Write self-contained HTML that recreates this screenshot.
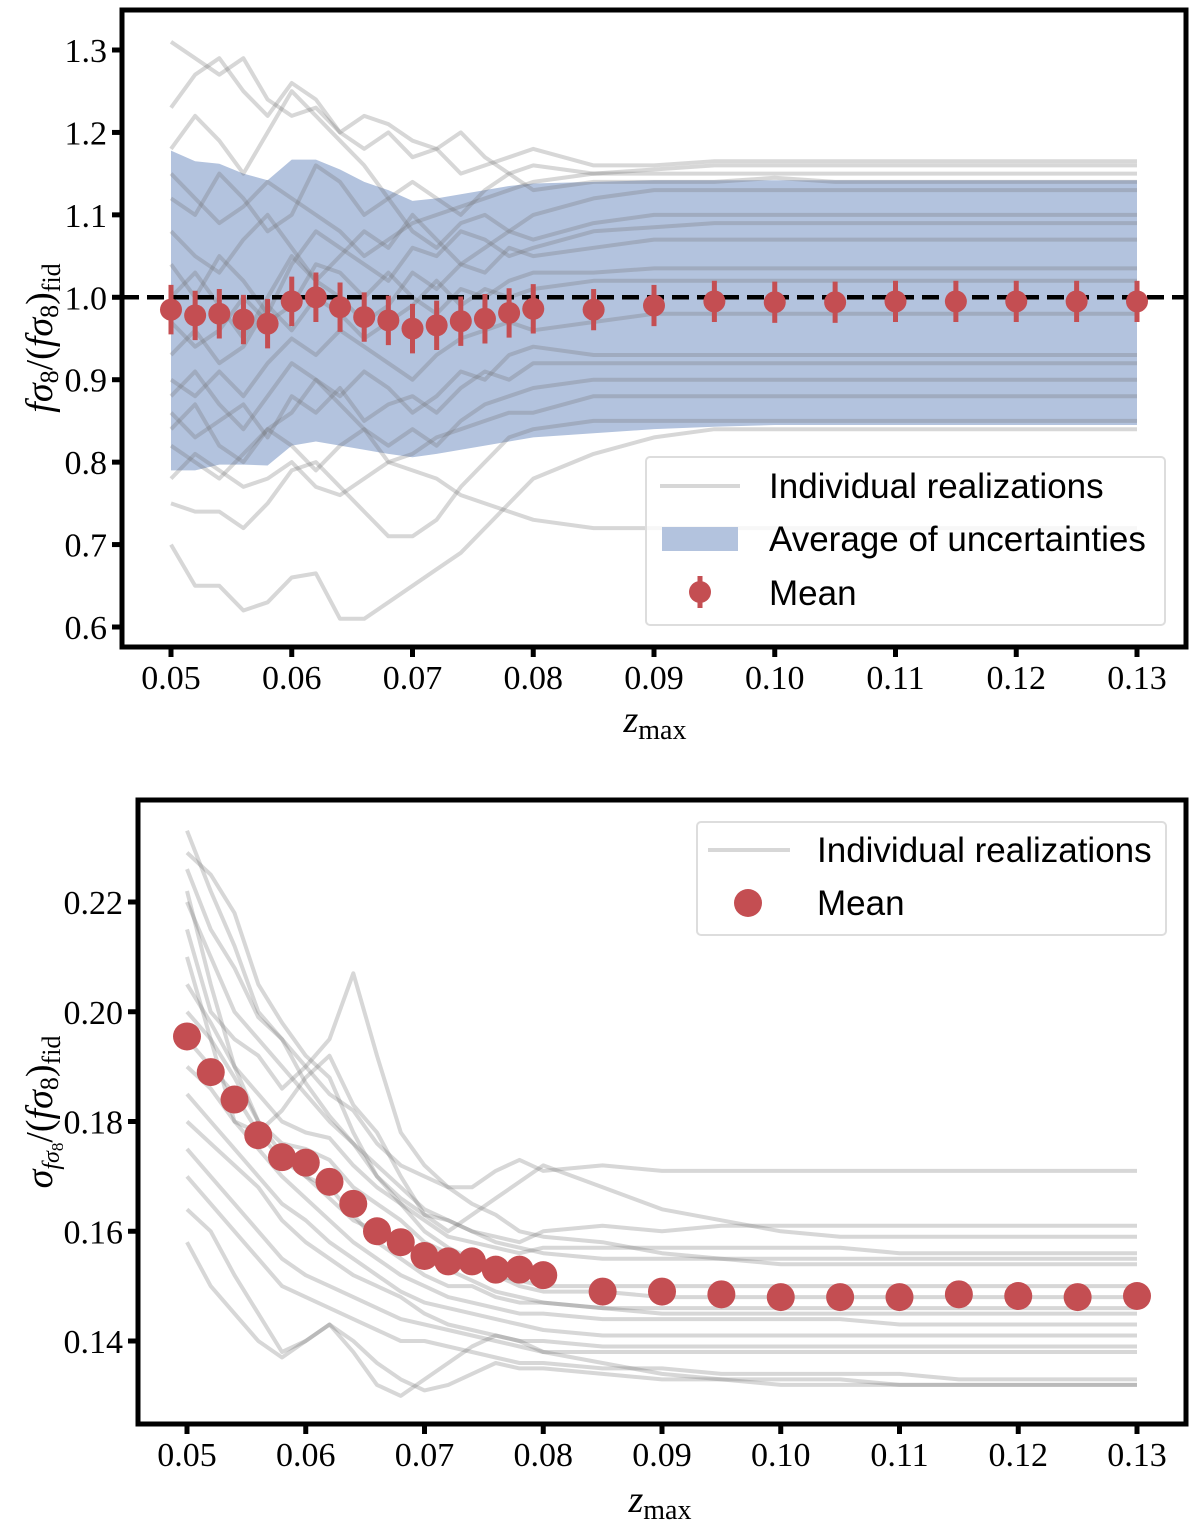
<!DOCTYPE html>
<html><head><meta charset="utf-8"><style>
body{margin:0;background:#fff;}
svg{display:block;}
text{font-family:"Liberation Serif",serif;fill:#000;}
.leg{font-family:"Liberation Sans",sans-serif;font-size:35px;}
</style></head><body>
<svg id="chart" width="1200" height="1532" viewBox="0 0 1200 1532" xmlns="http://www.w3.org/2000/svg"></svg>
<script>
const zvals=[0.050,0.052,0.054,0.056,0.058,0.060,0.062,0.064,0.066,0.068,0.070,0.072,0.074,0.076,0.078,0.080,0.085,0.090,0.095,0.100,0.105,0.110,0.115,0.120,0.125,0.130];
const xTicks=[0.05,0.06,0.07,0.08,0.09,0.10,0.11,0.12,0.13];
const xTickLabels=["0.05","0.06","0.07","0.08","0.09","0.10","0.11","0.12","0.13"];
const topYTicks=[0.6,0.7,0.8,0.9,1.0,1.1,1.2,1.3];
const topYTickLabels=["0.6","0.7","0.8","0.9","1.0","1.1","1.2","1.3"];
const botYTicks=[0.14,0.16,0.18,0.20,0.22];
const botYTickLabels=["0.14","0.16","0.18","0.20","0.22"];
const topMean=[0.985,0.978,0.980,0.973,0.968,0.995,1.000,0.988,0.976,0.972,0.962,0.966,0.971,0.974,0.981,0.986,0.985,0.990,0.995,0.994,0.994,0.995,0.995,0.995,0.995,0.995];
const topErr=[0.03,0.03,0.03,0.03,0.03,0.03,0.03,0.03,0.03,0.03,0.03,0.03,0.03,0.03,0.03,0.03,0.025,0.025,0.025,0.025,0.025,0.025,0.025,0.025,0.025,0.025];
const bandUpper=[1.178,1.165,1.162,1.150,1.142,1.167,1.167,1.155,1.140,1.130,1.117,1.120,1.125,1.130,1.135,1.138,1.140,1.142,1.142,1.142,1.142,1.142,1.142,1.142,1.142,1.142];
const bandLower=[0.790,0.790,0.797,0.797,0.796,0.820,0.825,0.820,0.815,0.810,0.806,0.810,0.815,0.820,0.825,0.830,0.835,0.840,0.843,0.845,0.845,0.845,0.845,0.845,0.845,0.845];
const topReal=[
[1.31,1.29,1.27,1.29,1.24,1.22,1.23,1.20,1.18,1.20,1.17,1.18,1.15,1.16,1.17,1.18,1.16,1.16,1.165,1.165,1.165,1.165,1.165,1.165,1.165,1.165],
[1.23,1.27,1.29,1.25,1.22,1.26,1.24,1.20,1.22,1.21,1.19,1.18,1.20,1.17,1.15,1.16,1.15,1.155,1.16,1.16,1.16,1.16,1.16,1.16,1.16,1.16],
[1.18,1.22,1.19,1.15,1.20,1.25,1.22,1.19,1.16,1.12,1.14,1.12,1.10,1.13,1.15,1.13,1.14,1.14,1.14,1.145,1.14,1.14,1.14,1.14,1.14,1.14],
[1.12,1.10,1.15,1.12,1.08,1.10,1.16,1.14,1.10,1.12,1.08,1.06,1.09,1.10,1.08,1.10,1.12,1.13,1.13,1.13,1.13,1.13,1.13,1.13,1.13,1.13],
[1.08,1.05,1.03,1.07,1.10,1.06,1.02,1.05,1.08,1.06,1.10,1.07,1.04,1.06,1.08,1.07,1.09,1.10,1.10,1.10,1.10,1.10,1.10,1.10,1.10,1.10],
[1.04,1.00,1.05,1.02,0.98,1.04,1.08,1.06,1.04,1.02,1.06,1.05,1.08,1.07,1.05,1.06,1.08,1.085,1.09,1.09,1.09,1.09,1.09,1.09,1.09,1.09],
[1.00,1.03,0.99,0.95,1.00,1.05,1.02,1.00,0.97,0.99,1.03,1.01,1.04,1.03,1.06,1.05,1.06,1.07,1.07,1.07,1.07,1.07,1.07,1.07,1.07,1.07],
[0.97,0.94,0.96,1.00,0.97,0.99,1.04,1.03,1.00,1.03,1.00,0.98,1.01,1.00,1.02,1.03,1.03,1.035,1.035,1.035,1.035,1.035,1.035,1.035,1.035,1.035],
[0.93,0.96,0.92,0.94,0.99,0.96,1.00,0.98,0.95,0.97,0.99,1.02,0.99,1.01,1.00,1.01,1.02,1.02,1.02,1.02,1.02,1.02,1.02,1.02,1.02,1.02],
[0.90,0.88,0.91,0.88,0.92,0.95,0.93,0.96,0.94,0.92,0.90,0.93,0.95,0.96,0.97,0.96,0.97,0.98,0.98,0.98,0.98,0.98,0.98,0.98,0.98,0.98],
[0.88,0.91,0.87,0.84,0.88,0.92,0.90,0.88,0.91,0.89,0.86,0.88,0.91,0.90,0.93,0.94,0.93,0.93,0.93,0.93,0.93,0.93,0.93,0.93,0.93,0.93],
[0.86,0.83,0.85,0.87,0.83,0.88,0.86,0.89,0.85,0.87,0.88,0.86,0.89,0.91,0.90,0.92,0.92,0.92,0.92,0.92,0.92,0.92,0.92,0.92,0.92,0.92],
[0.84,0.87,0.82,0.80,0.84,0.86,0.90,0.87,0.84,0.82,0.84,0.82,0.85,0.87,0.88,0.89,0.90,0.90,0.90,0.90,0.90,0.90,0.90,0.90,0.90,0.90],
[0.82,0.80,0.78,0.81,0.84,0.82,0.79,0.82,0.84,0.80,0.81,0.83,0.84,0.85,0.86,0.86,0.88,0.88,0.88,0.88,0.88,0.88,0.88,0.88,0.88,0.88],
[0.75,0.74,0.74,0.72,0.75,0.79,0.80,0.77,0.74,0.71,0.71,0.73,0.77,0.80,0.83,0.84,0.85,0.85,0.85,0.85,0.85,0.85,0.85,0.85,0.85,0.85],
[0.70,0.65,0.65,0.62,0.63,0.66,0.665,0.61,0.61,0.63,0.65,0.67,0.69,0.72,0.75,0.78,0.81,0.83,0.84,0.84,0.84,0.84,0.84,0.84,0.84,0.84],
[0.78,0.81,0.79,0.77,0.78,0.80,0.77,0.76,0.78,0.80,0.79,0.78,0.76,0.75,0.74,0.73,0.72,0.72,0.72,0.72,0.72,0.72,0.72,0.72,0.72,0.72],
[1.15,1.12,1.09,1.11,1.14,1.12,1.10,1.08,1.05,1.07,1.09,1.10,1.11,1.12,1.13,1.14,1.15,1.15,1.15,1.15,1.15,1.15,1.15,1.15,1.15,1.15]];
const botMean=[0.1955,0.189,0.184,0.1775,0.1735,0.1725,0.169,0.165,0.160,0.158,0.1555,0.1545,0.1545,0.153,0.153,0.152,0.149,0.149,0.1485,0.148,0.148,0.148,0.1485,0.1482,0.148,0.1482];
const botReal=[
[.233,.222,.212,.200,.195,.190,.185,.182,.176,.172,.170,.168,.168,.171,.173,.171,.172,.171,.171,.171,.171,.171,.171,.171,.171,.171],
[.229,.225,.218,.205,.198,.192,.188,.178,.170,.166,.163,.162,.160,.159,.158,.160,.161,.160,.161,.161,.161,.161,.161,.161,.161,.161],
[.226,.215,.208,.199,.195,.187,.181,.176,.170,.165,.162,.159,.158,.157,.156,.157,.157,.157,.157,.157,.157,.156,.156,.156,.156,.156],
[.220,.210,.200,.195,.190,.185,.180,.176,.172,.168,.164,.162,.160,.158,.157,.156,.155,.155,.155,.155,.155,.155,.155,.155,.155,.155],
[.215,.200,.195,.192,.186,.190,.195,.207,.192,.178,.172,.168,.165,.163,.160,.159,.158,.156,.155,.154,.154,.154,.154,.154,.154,.154],
[.205,.198,.190,.185,.180,.178,.177,.172,.168,.165,.160,.157,.155,.152,.151,.150,.150,.150,.150,.150,.150,.150,.150,.150,.150,.150],
[.200,.195,.188,.180,.176,.175,.173,.168,.165,.162,.158,.156,.154,.152,.150,.149,.149,.148,.148,.148,.148,.148,.148,.148,.148,.148],
[.195,.190,.185,.178,.173,.170,.168,.163,.158,.155,.152,.150,.150,.148,.147,.147,.146,.146,.146,.146,.146,.146,.146,.146,.146,.146],
[.190,.186,.180,.175,.170,.166,.162,.158,.155,.152,.150,.148,.147,.146,.145,.145,.144,.144,.144,.144,.144,.143,.143,.143,.143,.143],
[.185,.180,.175,.170,.165,.162,.158,.155,.152,.149,.147,.146,.145,.144,.143,.142,.141,.141,.141,.141,.141,.141,.141,.141,.141,.141],
[.180,.176,.172,.168,.162,.158,.155,.152,.150,.148,.145,.143,.142,.141,.140,.140,.139,.139,.139,.139,.139,.139,.139,.139,.139,.139],
[.175,.170,.165,.160,.155,.152,.150,.148,.146,.144,.143,.142,.141,.140,.139,.138,.138,.138,.138,.138,.138,.138,.138,.138,.138,.138],
[.170,.165,.160,.155,.150,.148,.146,.144,.142,.140,.140,.139,.138,.137,.136,.136,.135,.135,.134,.134,.134,.134,.133,.133,.133,.133],
[.164,.160,.152,.145,.138,.140,.143,.140,.136,.133,.131,.132,.134,.136,.135,.135,.134,.133,.133,.133,.133,.132,.132,.132,.132,.132],
[.158,.150,.145,.140,.137,.140,.143,.138,.132,.130,.133,.136,.139,.141,.140,.138,.136,.134,.133,.132,.132,.132,.132,.132,.132,.132],
[.210,.195,.180,.178,.182,.188,.192,.183,.178,.170,.163,.160,.163,.166,.169,.172,.168,.164,.162,.160,.159,.159,.159,.159,.159,.159],
[.222,.205,.190,.180,.174,.170,.166,.162,.160,.158,.155,.153,.151,.149,.148,.147,.146,.145,.145,.145,.145,.145,.145,.145,.145,.145]];

const NS="http://www.w3.org/2000/svg";
const svg=document.getElementById('chart');
function mk(tag,attrs,parent,txt){const e=document.createElementNS(NS,tag);for(const k in attrs)e.setAttribute(k,attrs[k]);if(txt!==undefined)e.textContent=txt;(parent||svg).appendChild(e);return e;}

const P1={l:122,r:1186,t:10,b:647,x0:0.05,px0:171,x1:0.13,px1:1137,y0:0.6,py0:627,y1:1.3,py1:50};
const P2={l:138,r:1186,t:800,b:1424,x0:0.05,px0:187,x1:0.13,px1:1137,y0:0.14,py0:1341,y1:0.22,py1:902};
function sx(P,v){return P.px0+(v-P.x0)*(P.px1-P.px0)/(P.x1-P.x0);}
function sy(P,v){return P.py0+(v-P.y0)*(P.py1-P.py0)/(P.y1-P.y0);}
function linePath(P,arr){return arr.map((v,i)=>(i?'L':'M')+sx(P,zvals[i]).toFixed(1)+','+sy(P,v).toFixed(1)).join(' ');}

function axes(P,g,yt,ytl){
  for(let i=0;i<xTicks.length;i++){
    const x=sx(P,xTicks[i]);
    const t=mk('line',{x1:x,x2:x,y1:P.b,y2:P.b+10,stroke:'#000','stroke-width':5},g);
    
    
    const l=mk('text',{x:x,y:P.b+42,'font-size':34,'text-anchor':'middle'},g,xTickLabels[i]);
    
    
  }
  for(let i=0;i<yt.length;i++){
    const y=sy(P,yt[i]);
    const t=mk('line',{x1:P.l-10,x2:P.l,y1:y,y2:y,stroke:'#000','stroke-width':5},g);
    
    
    const l=mk('text',{x:P.l-15,y:y+12,'font-size':34,'text-anchor':'end'},g,ytl[i]);
    
    
  }
  const f=mk('rect',{x:P.l,y:P.t,width:P.r-P.l,height:P.b-P.t,fill:'none',stroke:'#000','stroke-width':5},g);
  
  
}

// ---------- TOP PANEL ----------
const g1=mk('g',{});


const clip=mk('clipPath',{id:'c1'},mk('defs',{},g1));
mk('rect',{x:P1.l,y:P1.t,width:P1.r-P1.l,height:P1.b-P1.t},clip);
const gc=mk('g',{'clip-path':'url(#c1)'},g1);
let bd=bandUpper.map((v,i)=>(i?'L':'M')+sx(P1,zvals[i])+','+sy(P1,v)).join(' ');
for(let i=zvals.length-1;i>=0;i--)bd+=' L'+sx(P1,zvals[i])+','+sy(P1,bandLower[i]);
const band=mk('path',{d:bd+' Z',fill:'#b3c3de',stroke:'none'},gc);


topReal.forEach(r=>{
  const p=mk('path',{d:linePath(P1,r),fill:'none',stroke:'rgba(110,110,110,0.28)','stroke-width':4,'stroke-linejoin':'round'},gc);
  
  
});
const ref=mk('line',{x1:P1.l,x2:P1.r,y1:sy(P1,1.0),y2:sy(P1,1.0),stroke:'#000','stroke-width':4.5,'stroke-dasharray':'17,8'},gc);


topMean.forEach((v,i)=>{
  const x=sx(P1,zvals[i]);
  const e=mk('line',{x1:x,x2:x,y1:sy(P1,v+topErr[i]),y2:sy(P1,v-topErr[i]),stroke:'#c44e52','stroke-width':5},gc);
  
  
  const c=mk('circle',{cx:x,cy:sy(P1,v),r:11,fill:'#c44e52'},gc);
  
  
});
axes(P1,g1,topYTicks,topYTickLabels);
const lg1=mk('g',{},g1);


mk('rect',{x:646,y:457,width:519,height:168,rx:4,fill:'rgba(255,255,255,0.8)',stroke:'#ddd','stroke-width':2},lg1);
mk('line',{x1:660,x2:740,y1:486,y2:486,stroke:'rgba(110,110,110,0.28)','stroke-width':4},lg1);
mk('text',{x:769,y:498,class:'leg'},lg1,'Individual realizations');
mk('rect',{x:662,y:527,width:76,height:24,fill:'#b3c3de'},lg1);
mk('text',{x:769,y:551,class:'leg'},lg1,'Average of uncertainties');
mk('line',{x1:700,x2:700,y1:576,y2:608,stroke:'#c44e52','stroke-width':5},lg1);
mk('circle',{cx:700,cy:592,r:11,fill:'#c44e52'},lg1);
mk('text',{x:769,y:605,class:'leg'},lg1,'Mean');
const yl1=mk('text',{x:0,y:0,'font-size':38,'text-anchor':'middle','font-style':'italic',transform:'translate(52,338) rotate(-90)'},g1);


yl1.innerHTML='fσ<tspan font-size="26" dy="6" font-style="normal">8</tspan><tspan dy="-6" font-style="normal">/(</tspan>fσ<tspan font-size="26" dy="6" font-style="normal">8</tspan><tspan dy="-6" font-style="normal">)</tspan><tspan font-size="26" dy="8" font-style="normal">fid</tspan>';
const xl1=mk('text',{x:655,y:732,'font-size':38,'text-anchor':'middle','font-style':'italic'},g1);


xl1.innerHTML='z<tspan font-size="28" dy="7" font-style="normal">max</tspan>';

// ---------- BOTTOM PANEL ----------
const g2=mk('g',{});


const clip2=mk('clipPath',{id:'c2'},mk('defs',{},g2));
mk('rect',{x:P2.l,y:P2.t,width:P2.r-P2.l,height:P2.b-P2.t},clip2);
const gc2=mk('g',{'clip-path':'url(#c2)'},g2);
botReal.forEach(r=>{
  const p=mk('path',{d:linePath(P2,r),fill:'none',stroke:'rgba(110,110,110,0.28)','stroke-width':4,'stroke-linejoin':'round'},gc2);
  
  
});
botMean.forEach((v,i)=>{
  const c=mk('circle',{cx:sx(P2,zvals[i]),cy:sy(P2,v),r:14,fill:'#c44e52'},gc2);
  
  
});
axes(P2,g2,botYTicks,botYTickLabels);
const lg2=mk('g',{},g2);


mk('rect',{x:697,y:822,width:469,height:113,rx:4,fill:'rgba(255,255,255,0.8)',stroke:'#ddd','stroke-width':2},lg2);
mk('line',{x1:708,x2:790,y1:850,y2:850,stroke:'rgba(110,110,110,0.28)','stroke-width':4},lg2);
mk('text',{x:817,y:862,class:'leg'},lg2,'Individual realizations');
mk('circle',{cx:748,cy:903,r:14,fill:'#c44e52'},lg2);
mk('text',{x:817,y:915,class:'leg'},lg2,'Mean');
const yl2=mk('text',{x:0,y:0,'font-size':38,'text-anchor':'middle','font-style':'italic',transform:'translate(52,1112) rotate(-90)'},g2);


yl2.innerHTML='σ<tspan font-size="24" dy="7">fσ</tspan><tspan font-size="17" dy="4" font-style="normal">8</tspan><tspan dy="-11" font-style="normal">/(</tspan>fσ<tspan font-size="26" dy="6" font-style="normal">8</tspan><tspan dy="-6" font-style="normal">)</tspan><tspan font-size="26" dy="8" font-style="normal">fid</tspan>';
const xl2=mk('text',{x:660,y:1512,'font-size':38,'text-anchor':'middle','font-style':'italic'},g2);


xl2.innerHTML='z<tspan font-size="28" dy="7" font-style="normal">max</tspan>';
</script>
</body></html>
